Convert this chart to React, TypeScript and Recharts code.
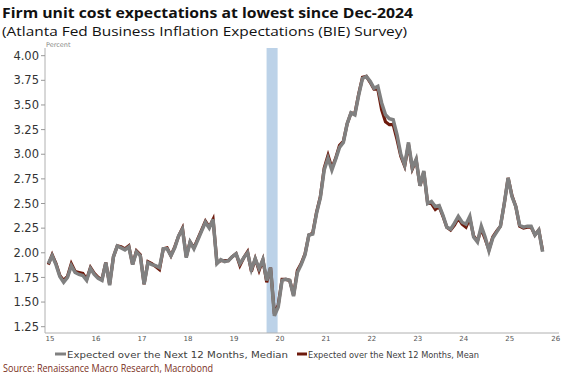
import React from "react";
import { LineChart, Line, XAxis, YAxis, ReferenceArea } from "recharts";

// Monthly observations, May 2015 – Feb 2026
const startYear = 2015;
const startMonth = 5;

const median = [
  1.89, 1.97, 1.88, 1.76, 1.70, 1.75, 1.87, 1.80, 1.78, 1.77,
  1.72, 1.84, 1.78, 1.74, 1.72, 1.90, 1.67, 1.96, 2.07, 2.05,
  2.03, 2.06, 1.88, 2.01, 1.97, 1.68, 1.90, 1.88, 1.87, 1.85,
  2.04, 2.04, 1.97, 2.05, 2.17, 2.24, 1.95, 2.11, 2.04, 2.13,
  2.22, 2.31, 2.25, 2.34, 1.89, 1.93, 1.91, 1.92, 1.96, 1.99,
  1.89, 1.95, 2.00, 1.83, 1.94, 1.84, 1.93, 1.72, 1.85, 1.36,
  1.45, 1.72, 1.73, 1.72, 1.56, 1.80, 1.88, 1.98, 2.18, 2.19,
  2.40, 2.56, 2.84, 2.96, 2.84, 2.95, 3.07, 3.12, 3.31, 3.42,
  3.40, 3.60, 3.77, 3.79, 3.74, 3.67, 3.69, 3.52, 3.40, 3.36,
  3.35, 3.20, 3.00, 2.89, 3.12, 2.86, 2.95, 2.68, 2.83, 2.50,
  2.52, 2.47, 2.48, 2.38, 2.26, 2.24, 2.30, 2.37, 2.31, 2.29,
  2.37, 2.16, 2.11, 2.27, 2.16, 2.02, 2.15, 2.21, 2.27, 2.50,
  2.76, 2.57, 2.47, 2.28, 2.26, 2.27, 2.27, 2.18, 2.23, 2.01,
];

const mean = [
  1.88, 1.98, 1.89, 1.77, 1.72, 1.76, 1.89, 1.81, 1.80, 1.79,
  1.73, 1.85, 1.79, 1.75, 1.73, 1.90, 1.68, 1.96, 2.07, 2.06,
  2.04, 2.07, 1.88, 2.02, 1.98, 1.68, 1.91, 1.89, 1.86, 1.83,
  2.04, 2.05, 1.97, 2.06, 2.17, 2.25, 1.96, 2.11, 2.05, 2.14,
  2.23, 2.32, 2.26, 2.34, 1.90, 1.92, 1.92, 1.92, 1.96, 1.99,
  1.87, 1.95, 2.01, 1.81, 1.94, 1.82, 1.93, 1.70, 1.85, 1.38,
  1.47, 1.73, 1.73, 1.72, 1.57, 1.82, 1.89, 1.99, 2.18, 2.20,
  2.41, 2.57, 2.86, 2.99, 2.86, 2.96, 3.09, 3.13, 3.31, 3.42,
  3.41, 3.61, 3.78, 3.79, 3.73, 3.66, 3.66, 3.45, 3.33, 3.30,
  3.30, 3.15, 2.98, 2.88, 3.10, 2.85, 2.94, 2.68, 2.82, 2.50,
  2.50, 2.44, 2.47, 2.37, 2.26, 2.23, 2.28, 2.35, 2.29, 2.26,
  2.35, 2.17, 2.12, 2.24, 2.14, 2.03, 2.16, 2.22, 2.27, 2.50,
  2.76, 2.58, 2.47, 2.27, 2.25, 2.26, 2.26, 2.18, 2.23, 2.02,
];

const yTicks = [1.25, 1.5, 1.75, 2.0, 2.25, 2.5, 2.75, 3.0, 3.25, 3.5, 3.75, 4.0];
const yearLabels = ["15", "16", "17", "18", "19", "20", "21", "22", "23", "24", "25", "26"];
const recession = { from: 2020.08, to: 2020.32 };

const data = median.map((m, i) => ({
  t: startYear + (startMonth - 1) / 12 + i / 12,
  median: m,
  mean: mean[i],
}));

const xTicks = yearLabels.map((l) => 2000 + Number(l) + 0.37);

const GRAY = "#808080";
const RED = "#6e1a0c";

export default function App() {
  return (
    <div style={{ position: "absolute", left: 0, top: 0, width: 564, height: 380, background: "#fff" }}>
      <LineChart
        width={564}
        height={380}
        data={data}
        margin={{ top: 48, right: 5, left: 0, bottom: 0 }}
      >
        <ReferenceArea
          x1={recession.from}
          x2={recession.to}
          fill="#bcd2e8"
          fillOpacity={1}
          stroke="none"
          ifOverflow="hidden"
        />
        <XAxis
          dataKey="t"
          type="number"
          domain={[2015.261, 2026.44]}
          ticks={xTicks}
          tickFormatter={(v: number) => String(Math.floor(v) - 2000)}
          height={47}
          tickLine={false}
          tickSize={0}
          tickMargin={3}
          axisLine={{ stroke: "#b0b0b0", strokeWidth: 1 }}
          tick={{ fontSize: 7, fill: "#555", fontFamily: "DejaVu Sans" }}
          interval={0}
          allowDataOverflow
        />
        <YAxis
          type="number"
          domain={[1.186, 4.078]}
          ticks={yTicks}
          tickFormatter={(v: number) => v.toFixed(2)}
          width={45}
          tickSize={4}
          tickMargin={2}
          tickLine={{ stroke: "#999" }}
          axisLine={{ stroke: "#b0b0b0", strokeWidth: 1 }}
          tick={{ fontSize: 11.5, fill: "#333", fontFamily: "DejaVu Sans" }}
          interval={0}
          allowDataOverflow
        />
        <Line
          type="linear"
          dataKey="mean"
          stroke={RED}
          strokeWidth={3.2}
          dot={false}
          isAnimationActive={false}
        />
        <Line
          type="linear"
          dataKey="median"
          stroke={GRAY}
          strokeWidth={3.5}
          dot={false}
          isAnimationActive={false}
        />
      </LineChart>
      <svg
        width={564}
        height={380}
        style={{ position: "absolute", left: 0, top: 0, pointerEvents: "none" }}
      >
        <text x={2} y={18} fontFamily="Open Sans" fontWeight={700} fontSize={15} fill="#111" textLength={411} lengthAdjust="spacingAndGlyphs">
          Firm unit cost expectations at lowest since Dec-2024
        </text>
        <text x={2} y={36} fontFamily="Open Sans" fontSize={13.5} fill="#111" textLength={405} lengthAdjust="spacingAndGlyphs">
          (Atlanta Fed Business Inflation Expectations (BIE) Survey)
        </text>
        <text x={46} y={47} fontFamily="DejaVu Sans" fontSize={6.5} fill="#888">
          Percent
        </text>
        <line x1={55} x2={66} y1={354} y2={354} stroke={GRAY} strokeWidth={3} />
        <text x={67} y={357.5} fontFamily="DejaVu Sans" fontSize={9.5} fill="#404040" textLength={221} lengthAdjust="spacingAndGlyphs">
          Expected over the Next 12 Months, Median
        </text>
        <line x1={297} x2={307} y1={354} y2={354} stroke={RED} strokeWidth={3} />
        <text x={308} y={357.5} fontFamily="DejaVu Sans" fontSize={9.5} fill="#404040" textLength={171} lengthAdjust="spacingAndGlyphs">
          Expected over the Next 12 Months, Mean
        </text>
        <text x={3} y={372} fontFamily="Open Sans" fontSize={11} fill="#7a2f22" textLength={210} lengthAdjust="spacingAndGlyphs">
          Source: Renaissance Macro Research, Macrobond
        </text>
      </svg>
    </div>
  );
}
